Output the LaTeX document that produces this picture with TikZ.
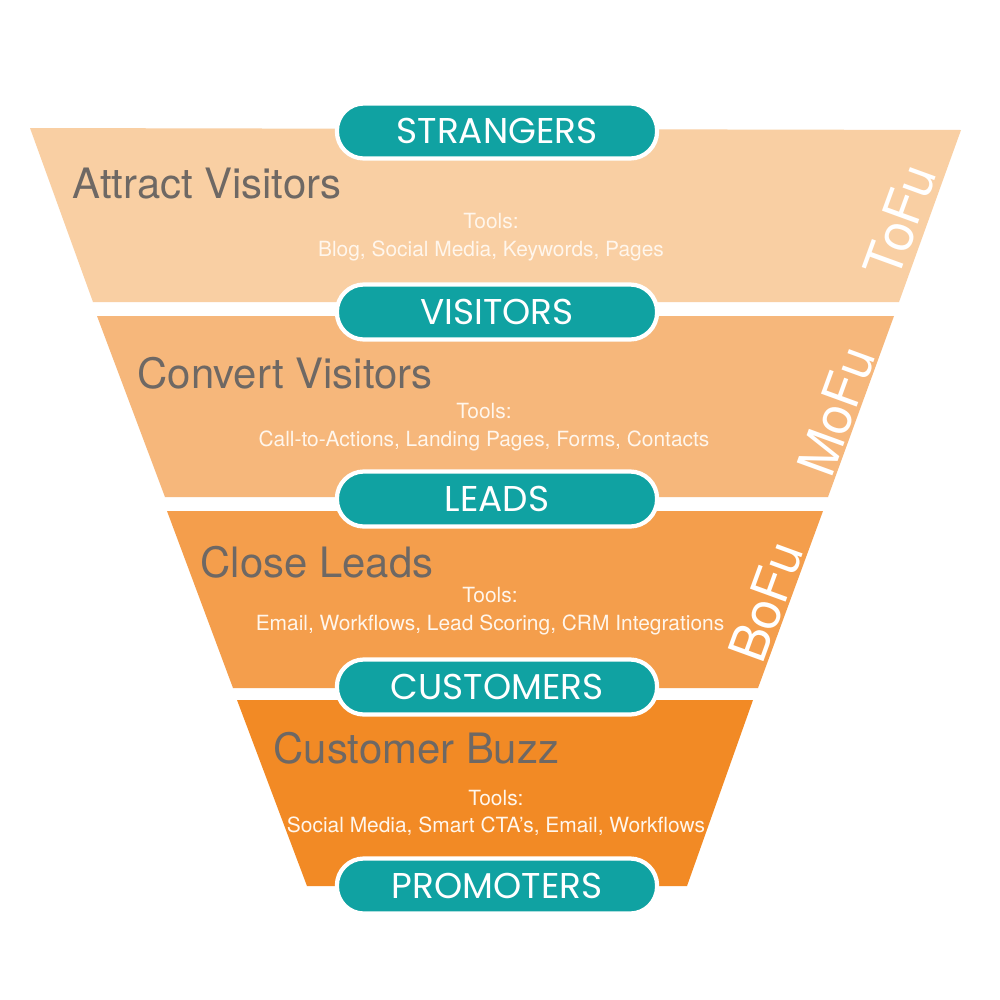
\documentclass[tikz,border=0pt]{standalone}
\usepackage{fontspec}
\setmainfont{TeX Gyre Heros}
\newfontfamily\pillfont{Poppins}
\definecolor{tone1}{HTML}{F9CFA3}
\definecolor{tone2}{HTML}{F6B77B}
\definecolor{tone3}{HTML}{F49E4C}
\definecolor{tone4}{HTML}{F28A25}
\definecolor{pillteal}{HTML}{10A2A2}
\definecolor{headgrey}{HTML}{6E6864}
\definecolor{toolwhite}{HTML}{FFF6EC}
\tikzset{
  pill/.style={rectangle, rounded corners=2.7mm, fill=pillteal, draw=white, line width=1.2pt,
    minimum width=3.2cm, minimum height=0.55cm, inner sep=0pt, text=white,
    font=\pillfont\fontsize{10.2}{12}\selectfont},
  head/.style={anchor=base west, inner sep=0pt, text=headgrey,
    font=\fontsize{11.9}{14}\selectfont},
  tools/.style={align=center, inner sep=0pt, text=toolwhite,
    font=\fontsize{5.95}{7.9}\selectfont},
  fu/.style={rotate=70, inner sep=0pt, text=white,
    font=\fontsize{14.8}{18}\selectfont}
}
\begin{document}
\begin{tikzpicture}[x=0.01cm,y=-0.01cm]
\useasboundingbox (0,0) rectangle (1000,1000);
\fill[white] (0,0) rectangle (1000,1000);
% funnel bands
\fill[tone1] (30,128) -- (961,130) -- (899,302) -- (93,302) -- cycle;
\fill[tone2] (97,316) -- (894,316) -- (828,497) -- (165,497) -- cycle;
\fill[tone3] (167,511) -- (823,511) -- (758,688) -- (233,688) -- cycle;
\fill[tone4] (237,700) -- (753,700) -- (687,886) -- (307,886) -- cycle;
% headings
\node[head] (h1) at (72,198) {Attract Visitors};
\node[head] (h2) at (137,388) {Convert Visitors};
\node[head] (h3) at (200,577) {Close Leads};
\node[head] (h4) at (273,763) {Customer Buzz};
% tools
\node[tools] (t1) at (491,237) {Tools:\\Blog, Social Media, Keywords, Pages};
\node[tools] (t2) at (484,427) {Tools:\\Call-to-Actions, Landing Pages, Forms, Contacts};
\node[tools] (t3) at (490,611) {Tools:\\Email, Workflows, Lead Scoring, CRM Integrations};
\node[tools] (t4) at (496,813) {Tools:\\Social Media, Smart CTA’s, Email, Workflows};
% stage labels
\node[fu] (tofu) at (900,221) {ToFu};
\node[fu] (mofu) at (836,411) {MoFu};
\node[fu] (bofu) at (766,602) {BoFu};
% pills
\node[pill] (strangers) at (497,131) {STRANGERS};
\node[pill] (visitors) at (497,312) {VISITORS};
\node[pill] (leads) at (497,499) {LEADS};
\node[pill] (customers) at (497,687) {CUSTOMERS};
\node[pill] (promoters) at (497,886) {PROMOTERS};
\end{tikzpicture}
\end{document}
